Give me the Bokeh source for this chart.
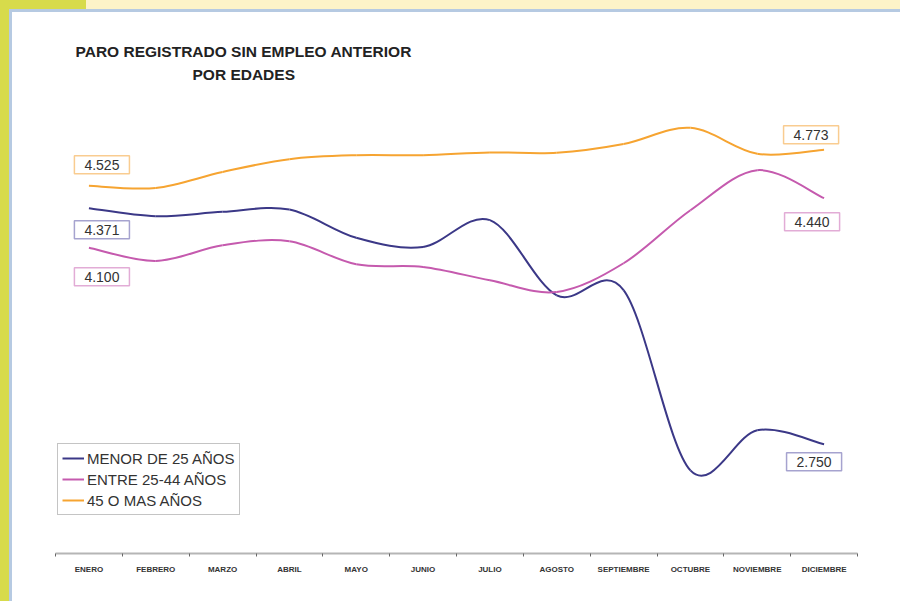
from bokeh.plotting import figure
from bokeh.models import Label, Legend, LegendItem, FixedTicker, Title, InlineStyleSheet
from bokeh.embed import file_html
from bokeh.resources import INLINE

# ---- data ----
months = ["ENERO", "FEBRERO", "MARZO", "ABRIL", "MAYO", "JUNIO", "JULIO",
          "AGOSTO", "SEPTIEMBRE", "OCTUBRE", "NOVIEMBRE", "DICIEMBRE"]
menor_25 = [4.371, 4.316, 4.346, 4.362, 4.168, 4.105, 4.289, 3.773, 3.808, 2.571, 2.846, 2.750]
entre_25_44 = [4.100, 4.009, 4.117, 4.144, 3.986, 3.968, 3.876, 3.796, 3.993, 4.357, 4.632, 4.440]
mas_45 = [4.525, 4.510, 4.620, 4.708, 4.735, 4.735, 4.754, 4.752, 4.812, 4.923, 4.745, 4.773]
series_names = ["MENOR DE 25 AÑOS", "ENTRE 25-44 AÑOS", "45 O MAS AÑOS"]
title_lines = ["PARO REGISTRADO SIN EMPLEO ANTERIOR", "POR EDADES"]

FONT = "Liberation Sans"
xs = list(range(len(months)))

p = figure(width=900, height=601, output_backend="svg", toolbar_location=None,
           x_range=(-0.5, len(months) - 0.5), y_range=(2.0, 5.2),
           y_axis_location=None,
           min_border_left=55, min_border_right=43, min_border_top=87, min_border_bottom=48)
p.outline_line_color = None
p.xgrid.visible = False
p.ygrid.visible = False
p.background_fill_color = "white"
p.border_fill_color = None

# decorative page frame (yellow strips and light-blue rule)
p.stylesheets = [InlineStyleSheet(css=""":host {
  background:
    linear-gradient(#d7db4b, #d7db4b) 0 0 / 9px 100% no-repeat,
    linear-gradient(#d7db4b, #d7db4b) 0 0 / 86px 9px no-repeat,
    linear-gradient(#fdf3c8, #fdf3c8) 0 0 / 100% 9px no-repeat,
    linear-gradient(#b6cae2, #b6cae2) 9px 9px / 3px 100% no-repeat,
    linear-gradient(#b6cae2, #b6cae2) 9px 9px / 100% 3px no-repeat,
    #ffffff;
}""")]

# titles (the later-added title sits nearest to the frame)
p.title.text = title_lines[0]
p.title.align = "left"
p.title.offset = 20
p.title.standoff = -2
p.title.text_font = FONT
p.title.text_font_size = "15.5px"
p.title.text_font_style = "bold"
p.title.text_color = "#222222"
p.add_layout(Title(text=title_lines[1], align="left", offset=137, standoff=10,
                   text_font=FONT, text_font_size="15.5px", text_font_style="bold",
                   text_color="#222222"), "above")

# x axis
ax = p.xaxis[0]
ax.ticker = FixedTicker(ticks=xs, minor_ticks=[i - 0.5 for i in range(len(months) + 1)])
ax.major_label_overrides = {i: m for i, m in enumerate(months)}
ax.major_tick_out = 0
ax.major_tick_in = 0
ax.minor_tick_out = 3
ax.minor_tick_in = 0
ax.minor_tick_line_color = "#666666"
ax.axis_line_color = "#b5b5b5"
ax.axis_line_width = 2
ax.major_label_text_font = FONT
ax.major_label_text_font_style = "bold"
ax.major_label_text_font_size = "8px"
ax.major_label_text_color = "#333333"
ax.major_label_standoff = 8


def bezier_segments(x, y):
    n = len(x)
    seg = dict(x0=[], y0=[], x1=[], y1=[], cx0=[], cy0=[], cx1=[], cy1=[])
    for i in range(n - 1):
        ip = max(i - 1, 0)
        inn = min(i + 2, n - 1)
        seg["x0"].append(x[i]); seg["y0"].append(y[i])
        seg["x1"].append(x[i + 1]); seg["y1"].append(y[i + 1])
        seg["cx0"].append(x[i] + (x[i + 1] - x[ip]) / 6)
        seg["cy0"].append(y[i] + (y[i + 1] - y[ip]) / 6)
        seg["cx1"].append(x[i + 1] - (x[inn] - x[i]) / 6)
        seg["cy1"].append(y[i + 1] - (y[inn] - y[i]) / 6)
    return seg


colors = ["#3b3887", "#c55aae", "#f6a431"]
box_colors = ["#a6a3cf", "#e2acd6", "#f9cc90"]
renderers = []
for vals, col in zip([menor_25, entre_25_44, mas_45], colors):
    r = p.bezier(line_color=col, line_width=2, **bezier_segments(xs, vals))
    renderers.append(r)

legend = Legend(items=[LegendItem(label=n, renderers=[r]) for n, r in zip(series_names, renderers)],
                location=(2, 38), orientation="vertical")
legend.label_text_font = FONT
legend.label_text_font_size = "15px"
legend.label_text_color = "#333333"
legend.glyph_width = 22
legend.glyph_height = 20
legend.label_height = 20
legend.label_standoff = 3
legend.spacing = 1
legend.padding = 4
legend.margin = 0
legend.border_line_color = "#8a8a8a"
legend.border_line_width = 1.5
legend.background_fill_color = "white"
legend.background_fill_alpha = 1
p.add_layout(legend)

# value labels at first and last points
last = len(months) - 1
label_specs = [
    (0, mas_45[0], 13, 21, 2), (0, menor_25[0], 13, -21.5, 0), (0, entre_25_44[0], 13, -29, 1),
    (last, mas_45[last], -13, 15, 2), (last, entre_25_44[last], -12, -23.5, 1),
    (last, menor_25[last], -10, -17.5, 0),
]
for x, y, xo, yo, k in label_specs:
    p.add_layout(Label(x=x, y=y, x_offset=xo, y_offset=yo, text=f"{y:.3f}",
                       text_font=FONT, text_font_size="14px", text_color="#333333",
                       text_align="center", text_baseline="middle",
                       border_line_color=box_colors[k], border_line_width=1.5,
                       background_fill_color="white",
                       padding=dict(left=10, right=10, top=4, bottom=4)))

open("out.html", "w").write(file_html(p, INLINE))
